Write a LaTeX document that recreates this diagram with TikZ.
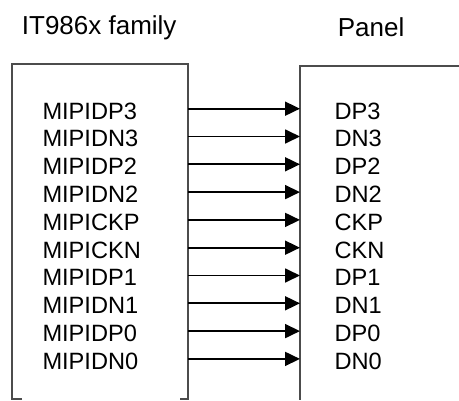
\documentclass[tikz,border=0pt]{standalone}
\usepackage{fontspec}
\setmainfont{Liberation Sans}
\usetikzlibrary{arrows.meta}

\begin{document}
\begin{tikzpicture}[x=1pt, y=-1pt,
  title/.style={anchor=base west, inner sep=0pt, font=\fontsize{26}{30}\selectfont},
  pin/.style={anchor=base west, inner sep=0pt, font=\fontsize{23.6}{28}\selectfont},
  box/.style={draw=black!70, line width=1.2pt},
  sig/.style={line width=1.8pt, -{Triangle[length=15pt, width=14pt]}},
]
\useasboundingbox (0,0) rectangle (459,400);

% Titles
\node[title] (chip) at (21.7, 34.3) {IT986x family};
\node[title] (panel) at (337.7, 36) {Panel};

% Boxes
\draw[box] (22,399) -- (12,399) -- (12,64) -- (188,64) -- (188,399) -- (180,399);
\draw[box] (459,66) -- (300,66) -- (300,400);

% Signals
\foreach \src/\dst [count=\i from 0] in {MIPIDP3/DP3, MIPIDN3/DN3, MIPIDP2/DP2, MIPIDN2/DN2,
    MIPICKP/CKP, MIPICKN/CKN, MIPIDP1/DP1, MIPIDN1/DN1, MIPIDP0/DP0, MIPIDN0/DN0} {
  \coordinate (out\i) at (188, 108.7+27.8*\i);
  \coordinate (in\i) at (300, 108.7+27.8*\i);
  \node[pin] (src\i) at (42.3, 119+27.8*\i) {\src};
  \node[pin] (dst\i) at (334.3, 119+27.8*\i) {\dst};
  \draw[sig] (out\i) -- (in\i);
}
\end{tikzpicture}
\end{document}
